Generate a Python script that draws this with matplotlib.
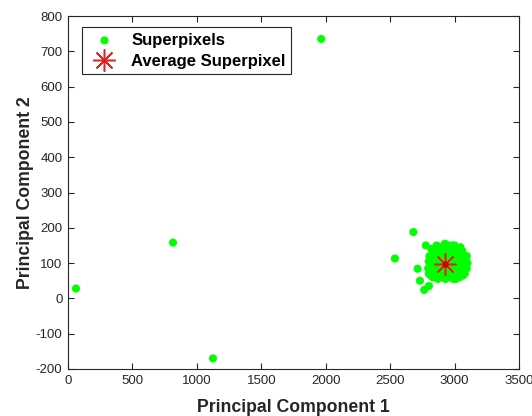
import matplotlib
matplotlib.use("Agg")
import matplotlib.pyplot as plt

plt.rcParams['font.family'] = ['Liberation Sans', 'DejaVu Sans']
plt.rcParams['axes.unicode_minus'] = False

# Isolated / outlying superpixels
outlier_x = [62, 815, 1125, 1965, 2537, 2680, 2777, 2713, 2731, 2764, 2801]
outlier_y = [28, 158, -170, 735, 113, 188, 150, 84, 50, 24, 35]

# Dense cluster of superpixels
cluster_x = [2800, 2810, 2805, 2820, 2830, 2840, 2845, 2850, 2860, 2870, 2875, 2880,
             2885, 2895, 2900, 2905, 2910, 2915, 2925, 2930, 2935, 2940, 2945, 2955,
             2960, 2965, 2970, 2975, 2985, 2990, 2995, 3000, 3005, 3010, 3020, 3025,
             3030, 3035, 3045, 3050, 3055, 3060, 3070, 3075, 3080, 3085, 3090, 2820,
             2855, 2890, 2950, 2980, 3015, 3040, 2925, 2960, 2870, 3000, 3065, 2940,
             2795, 2800, 2815, 2835, 2850, 2865, 2880, 2895, 2910, 2920, 2950, 2970,
             2990, 3010, 3030, 3050, 3070, 3095, 3100, 3095, 3080, 3060, 3040, 3020,
             2880, 2900, 2960, 3000, 3010, 2840, 2825, 2860, 2890, 2915, 2935, 2990]
cluster_y = [70, 95, 120, 140, 60, 85, 110, 130, 150, 55, 75, 100,
             125, 145, 65, 90, 115, 135, 155, 55, 80, 105, 125, 145,
             60, 85, 110, 135, 150, 55, 75, 100, 120, 140, 60, 85,
             105, 125, 145, 70, 95, 115, 80, 100, 120, 90, 105, 80,
             95, 80, 90, 95, 90, 90, 70, 130, 115, 60, 65, 150,
             85, 105, 65, 125, 70, 85, 140, 110, 60, 100, 115, 70,
             130, 75, 90, 130, 110, 85, 100, 120, 70, 135, 60, 115,
             60, 130, 150, 150, 55, 100, 110, 135, 65, 80, 95, 115]

# Average superpixel
avg_x = [2925]
avg_y = [98]

x_ticks = [0, 500, 1000, 1500, 2000, 2500, 3000, 3500]
y_ticks = [-200, -100, 0, 100, 200, 300, 400, 500, 600, 700, 800]

fig = plt.figure(figsize=(5.32, 4.16), dpi=100)
ax = fig.add_axes([0.1278, 0.113, 0.8478, 0.8485])

green = '#00ff00'
ax.scatter(outlier_x + cluster_x, outlier_y + cluster_y, s=34, c=green,
           edgecolors='none', label='Superpixels', zorder=2)
ax.plot(avg_x, avg_y, linestyle='none', marker=(8, 2, 0), markersize=16,
        markeredgecolor='#e62020', markeredgewidth=1.1, color='#e62020',
        label='Average Superpixel', zorder=3)
ax.plot(avg_x, avg_y, linestyle='none', marker='o', markersize=3.5,
        color='#d00000', zorder=4)

ax.set_xlim(0, 3500)
ax.set_ylim(-200, 800)
ax.set_xticks(x_ticks)
ax.set_yticks(y_ticks)
ax.tick_params(direction='in', top=True, right=True, length=4, width=0.8,
               labelsize=9.5, colors='#262626', pad=4)
for sp in ax.spines.values():
    sp.set_color('#262626')
    sp.set_linewidth(0.8)

ax.set_xlabel('Principal Component 1', fontsize=12.7, fontweight='bold',
              color='#262626', labelpad=9)
ax.set_ylabel('Principal Component 2', fontsize=12.7, fontweight='bold',
              color='#262626', labelpad=1)

leg = ax.legend(loc='upper left', bbox_to_anchor=(0.031, 0.969),
                prop={'weight': 'bold', 'size': 12}, fancybox=False,
                edgecolor='#262626', framealpha=1, borderpad=0.35,
                handletextpad=0.6, labelspacing=0.35, borderaxespad=0.0,
                markerscale=1.0)
leg.get_frame().set_linewidth(0.8)

fig.savefig('out.png', dpi=100)
